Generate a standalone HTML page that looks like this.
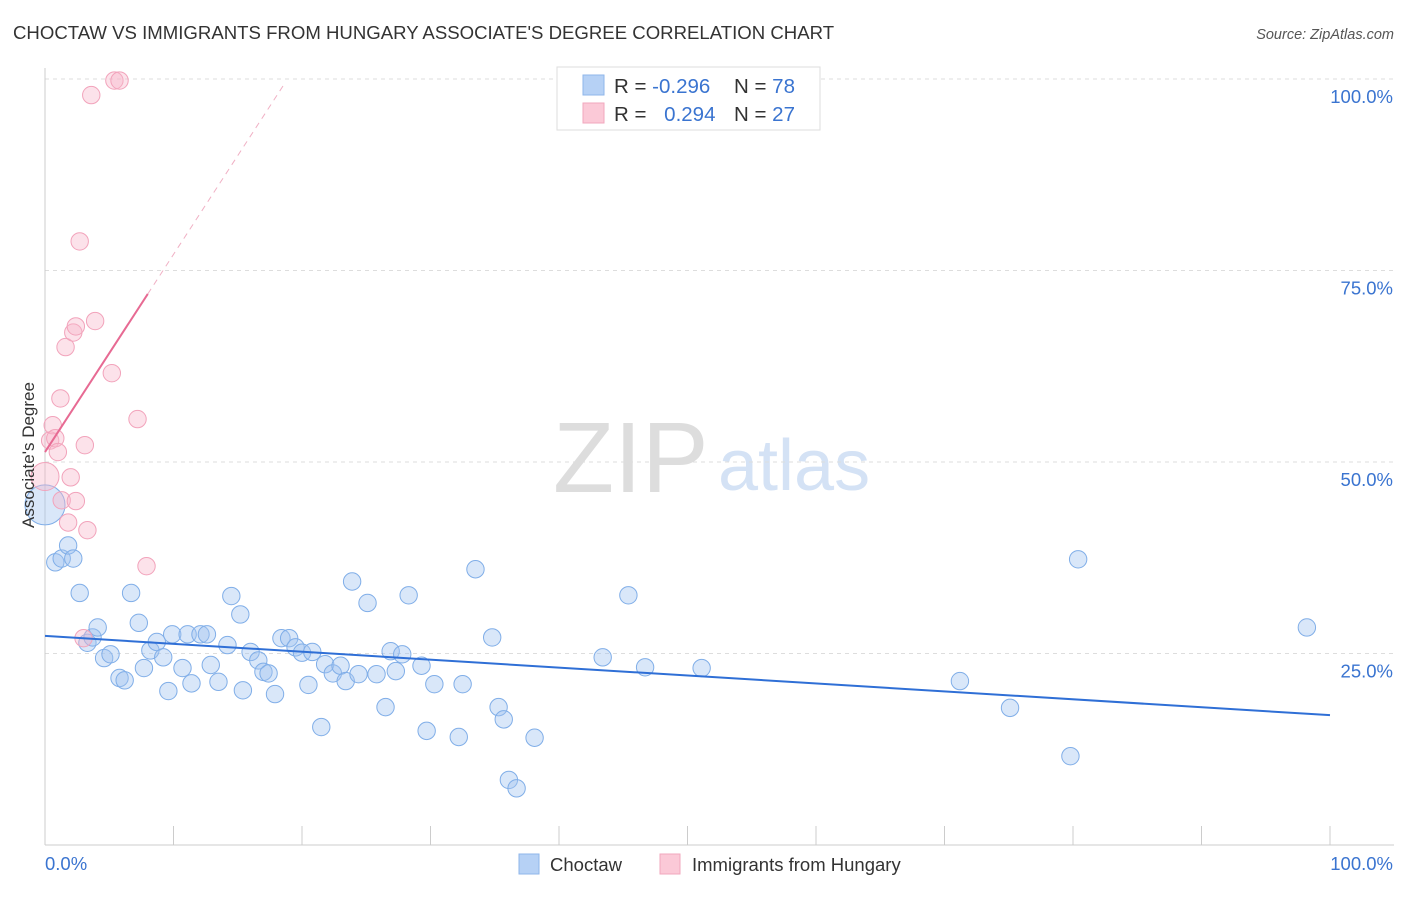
<!DOCTYPE html>
<html><head><meta charset="utf-8">
<style>
body{margin:0;background:#fff;font-family:"Liberation Sans",sans-serif;}
svg text{font-family:"Liberation Sans",sans-serif;}
</style></head>
<body>
<svg id="chart" width="1406" height="892" viewBox="0 0 1406 892" xmlns="http://www.w3.org/2000/svg">
<text x="13" y="39" font-size="18.6" fill="#333">CHOCTAW VS IMMIGRANTS FROM HUNGARY ASSOCIATE'S DEGREE CORRELATION CHART</text>
<text x="1394" y="39" font-size="14.5" fill="#555" font-style="italic" text-anchor="end">Source: ZipAtlas.com</text>
<g>
<text x="553" y="492" font-size="100" fill="#ddd" font-family="Liberation Serif,serif">ZIP</text>
<text x="718" y="490" font-size="72" fill="#d4e2f5">atlas</text>
</g>
<g id="grid"></g>
<g id="axes"></g>
<g id="marks"></g>
<text transform="translate(34,455) rotate(-90)" font-size="17" fill="#333" text-anchor="middle">Associate's Degree</text>
<g>
<rect x="557" y="67" width="263" height="63" fill="#fff" stroke="#ddd"/>
<rect x="583" y="75" width="21" height="20" fill="#b6d1f5" stroke="#8fb6ea"/>
<rect x="583" y="103" width="21" height="20" fill="#fbc9d7" stroke="#f2a7bd"/>
<text x="614" y="93" font-size="20.5" fill="#333">R = <tspan fill="#3a74d0">-0.296</tspan></text>
<text x="734" y="93" font-size="20.5" fill="#333">N = <tspan fill="#3a74d0">78</tspan></text>
<text x="614" y="121" font-size="20.5" fill="#333">R = <tspan fill="#3a74d0" dx="12">0.294</tspan></text>
<text x="734" y="121" font-size="20.5" fill="#333">N = <tspan fill="#3a74d0">27</tspan></text>
</g>
<g>
<rect x="519" y="854" width="20" height="20" fill="#b6d1f5" stroke="#8fb6ea"/>
<text x="550" y="871" font-size="18.5" fill="#333">Choctaw</text>
<rect x="660" y="854" width="20" height="20" fill="#fbc9d7" stroke="#f2a7bd"/>
<text x="692" y="871" font-size="18.5" fill="#333">Immigrants from Hungary</text>
</g>
</svg>
<script>
const yTicks=[25,50,75,100];
const yTickLabels=["25.0%","50.0%","75.0%","100.0%"];
const xTickVals=[0,10,20,30,40,50,60,70,80,90,100];
const blueX=[0,0.8,1.3,1.8,2.2,2.7,3.3,3.7,4.1,4.6,5.1,5.8,6.2,6.7,7.3,7.7,8.2,8.7,9.2,9.6,9.9,10.7,11.1,11.4,12.1,12.6,12.9,13.5,14.2,14.5,15.2,15.4,16.0,16.6,17.0,17.4,17.9,18.4,19.0,19.5,20.0,20.5,20.8,21.5,21.8,22.4,23.0,23.4,23.9,24.4,25.1,25.8,26.5,26.9,27.3,27.8,28.3,29.3,29.7,30.3,32.2,32.5,33.5,34.8,35.3,35.7,36.1,36.7,38.1,43.4,45.4,46.7,51.1,71.2,75.1,79.8,80.4,98.2];
const blueY=[44.4,36.9,37.4,39.1,37.4,32.9,26.4,27.1,28.4,24.4,24.9,21.8,21.5,32.9,29.0,23.1,25.4,26.5,24.5,20.1,27.5,23.1,27.5,21.1,27.5,27.5,23.5,21.3,26.1,32.5,30.1,20.2,25.2,24.1,22.6,22.4,19.7,27.0,27.0,25.8,25.1,20.9,25.2,15.4,23.6,22.4,23.4,21.4,34.4,22.3,31.6,22.3,18.0,25.3,22.7,24.9,32.6,23.4,14.9,21.0,14.1,21.0,36.0,27.1,18.0,16.4,8.5,7.4,14.0,24.5,32.6,23.2,23.1,21.4,17.9,11.6,37.3,28.4];
const pinkX=[0,0.4,0.6,0.8,1.0,1.2,1.3,1.6,1.8,2.0,2.2,2.4,2.4,2.7,3.0,3.1,3.3,3.6,3.9,5.2,5.4,5.8,7.2,7.9];
const pinkY=[48.1,52.8,54.8,53.1,51.3,58.3,45.0,65.0,42.1,48.0,66.9,67.7,44.9,78.8,27.0,52.2,41.1,97.9,68.4,61.6,99.8,99.8,55.6,36.4];
const blueTrend=[27.3,16.95];
const pinkTrend=[51.3,2.58];
const NS="http://www.w3.org/2000/svg";
const X0=45,X1=1330,Y0=845,Y100=79;
const sx=v=>X0+(X1-X0)*v/100;
const sy=v=>Y0-(Y0-Y100)*v/100;
function mk(t,a,p){const e=document.createElementNS(NS,t);for(const k in a)e.setAttribute(k,a[k]);p.appendChild(e);return e;}
const grid=document.getElementById('grid'),axes=document.getElementById('axes'),marks=document.getElementById('marks');
yTicks.forEach((v,i)=>{
 const l=mk('line',{x1:X0,x2:1394,y1:sy(v),y2:sy(v),stroke:'#ddd','stroke-dasharray':'4,4'},grid);
 
 
 const t=mk('text',{x:1393,y:sy(v)+24,'font-size':18.5,fill:'#3a74d0','text-anchor':'end'},axes);
 t.textContent=yTickLabels[i];
 
 
});
const al=mk('line',{x1:X0,x2:X0,y1:68,y2:Y0,stroke:'#ccc'},axes);


const bl=mk('line',{x1:X0,x2:1394,y1:Y0,y2:Y0,stroke:'#ccc'},axes);


xTickVals.forEach(v=>{
 const t=mk('line',{x1:sx(v),x2:sx(v),y1:826,y2:Y0,stroke:'#ccc'},axes);
 
 
});
const xl0=mk('text',{x:45,y:870,'font-size':18.5,fill:'#3a74d0'},axes);xl0.textContent='0.0%';


const xl1=mk('text',{x:1393,y:870,'font-size':18.5,fill:'#3a74d0','text-anchor':'end'},axes);xl1.textContent='100.0%';


blueX.forEach((x,i)=>{
 const c=mk('circle',{cx:sx(x),cy:sy(blueY[i]),r:i===0?20:8.7,fill:'rgba(160,196,240,0.4)',stroke:'#80aee8','stroke-width':1},marks);
 
 
});
pinkX.forEach((x,i)=>{
 const c=mk('circle',{cx:sx(x),cy:sy(pinkY[i]),r:i===0?14:8.7,fill:'rgba(247,182,202,0.4)',stroke:'#f2a3bb','stroke-width':1},marks);
 
 
});
const bt=mk('line',{x1:sx(0),y1:sy(blueTrend[0]),x2:sx(100),y2:sy(blueTrend[1]),stroke:'#2f6fd6','stroke-width':2},marks);


const pe=8.0,pd=18.7;
const pt=mk('line',{x1:sx(0),y1:sy(pinkTrend[0]),x2:sx(pe),y2:sy(pinkTrend[0]+pinkTrend[1]*pe),stroke:'#e76a93','stroke-width':2},marks);


const pdl=mk('line',{x1:sx(pe),y1:sy(pinkTrend[0]+pinkTrend[1]*pe),x2:sx(pd),y2:sy(pinkTrend[0]+pinkTrend[1]*pd),stroke:'#f0b0c4','stroke-width':1,'stroke-dasharray':'6,5'},marks);


</script>
</body></html>
